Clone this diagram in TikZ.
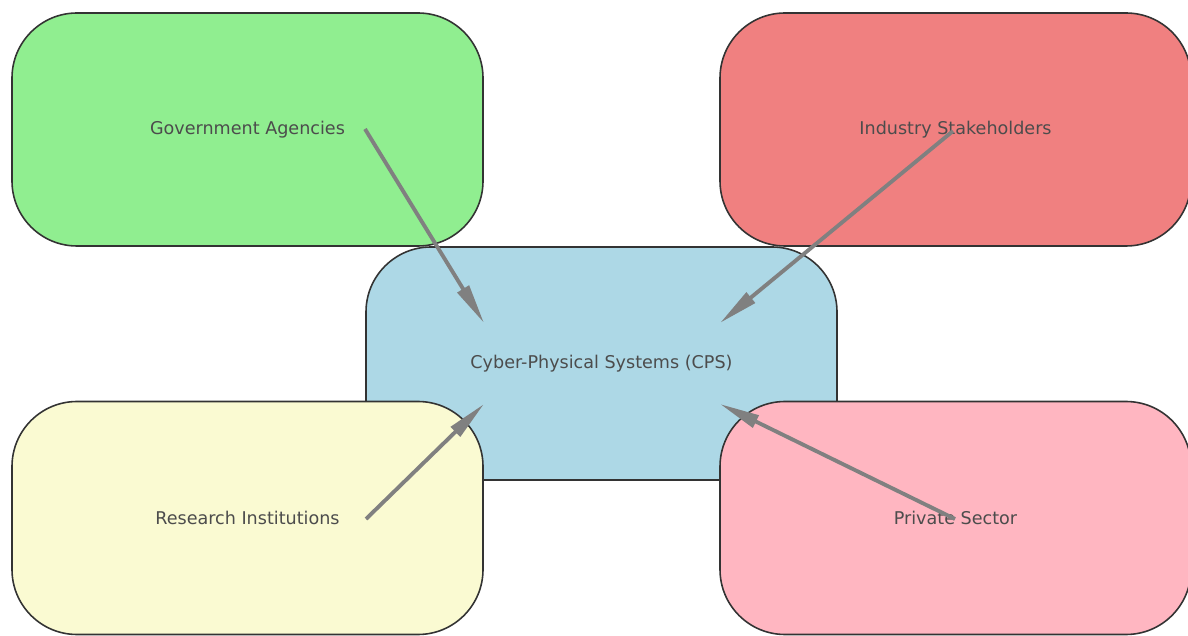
\documentclass[tikz,border=0pt]{standalone}
\usepackage{fontspec}
\setmainfont{DejaVu Sans}
\usepackage{tikz}
\usetikzlibrary{arrows.meta}

\definecolor{govgreen}{HTML}{90EE90}
\definecolor{indred}{HTML}{F08080}
\definecolor{cpsblue}{HTML}{ADD8E6}
\definecolor{resyellow}{HTML}{FAFAD2}
\definecolor{privpink}{HTML}{FFB6C1}

\tikzset{
    party/.style={draw=black!80, line width=0.9pt, rounded corners=1.3cm,
        minimum width=9.42cm, minimum height=4.66cm, text=black!70,
        font=\fontsize{10}{12}\selectfont},
    link/.style={draw=gray, line width=2.2pt,
        -{Triangle[length=0.8cm,width=0.26cm]}}
}

\begin{document}
\begin{tikzpicture}
        \useasboundingbox (0,0) rectangle (23.76,12.7);

        % Draw the boxes
            \node[party, fill=govgreen] (gov) at (4.95,10.11) {Government Agencies};
            \node[party, fill=indred] (ind) at (19.11,10.11) {Industry Stakeholders};
            \node[party, fill=cpsblue] (cps) at (12.03,5.43) {Cyber-Physical Systems (CPS)};
            \node[party, fill=resyellow] (res) at (4.95,2.34) {Research Institutions};
            \node[party, fill=privpink] (priv) at (19.11,2.34) {Private Sector};

        % Arrow ends
            \coordinate (govtail) at (7.30,10.12);
            \coordinate (indtail) at (19.06,10.08);
            \coordinate (restail) at (7.32,2.32);
            \coordinate (privtail) at (19.10,2.32);
            \coordinate (cpsnw) at (9.68,6.24);
            \coordinate (cpsne) at (14.40,6.24);
            \coordinate (cpssw) at (9.68,4.62);
            \coordinate (cpsse) at (14.40,4.62);

        % Draw the arrows
            \draw[link] (govtail) -- (cpsnw);
            \draw[link] (indtail) -- (cpsne);
            \draw[link] (restail) -- (cpssw);
            \draw[link] (privtail) -- (cpsse);
    \end{tikzpicture}
\end{document}
